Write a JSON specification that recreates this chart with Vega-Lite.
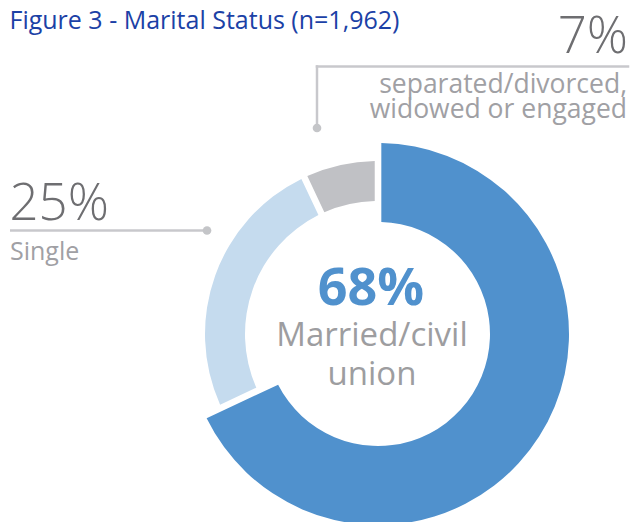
{
  "$schema": "https://vega.github.io/schema/vega-lite/v6.json",
  "width": 634,
  "height": 522,
  "autosize": {"type": "none"},
  "padding": 0,
  "background": "white",
  "config": {"view": {"stroke": null}},
  "data": {
    "values": [
      {"category": "Married/civil union", "label": "Married/civil\nunion", "pct": 0.68},
      {"category": "Single", "label": "Single", "pct": 0.25},
      {"category": "Other", "label": "separated/divorced,\nwidowed or engaged", "pct": 0.07}
    ]
  },
  "layer": [
    {
      "mark": {"type": "arc", "radius": 191, "radius2": 112, "padAngle": 0.03},
      "encoding": {
        "x": {"datum": 0, "type": "quantitative", "scale": {"domain": [-3.78, 2.56], "nice": false, "zero": false}, "axis": null},
        "y": {"datum": 0, "type": "quantitative", "scale": {"domain": [-1.88, 3.34], "nice": false, "zero": false}, "axis": null},
        "theta": {"field": "pct", "type": "quantitative", "stack": true},
        "order": {"field": "pct", "sort": "descending"},
        "fill": {"condition": {"test": "datum.category === 'Married/civil union'", "value": "#5091CD"}, "value": "transparent"}
      }
    },
    {
      "mark": {"type": "arc", "radius": 173, "radius2": 133, "padAngle": 0.03},
      "encoding": {
        "x": {"datum": 0, "type": "quantitative", "scale": {"domain": [-3.78, 2.56], "nice": false, "zero": false}, "axis": null},
        "y": {"datum": 0, "type": "quantitative", "scale": {"domain": [-1.88, 3.34], "nice": false, "zero": false}, "axis": null},
        "theta": {"field": "pct", "type": "quantitative", "stack": true},
        "order": {"field": "pct", "sort": "descending"},
        "fill": {"condition": [
          {"test": "datum.category === 'Single'", "value": "#C5DBEE"},
          {"test": "datum.category === 'Other'", "value": "#C0C1C5"}
        ], "value": "transparent"}
      }
    },
    {
      "data": {"values": [{"title": "Figure 3 - Marital Status (n=1,962)"}]},
      "mark": {"type": "text", "font": "Open Sans", "fontSize": 25, "color": "#1B41A6", "align": "left", "baseline": "alphabetic"},
      "encoding": {
        "x": {"datum": -3.685, "type": "quantitative", "scale": {"domain": [-3.78, 2.56], "nice": false, "zero": false}, "axis": null},
        "y": {"datum": 3.055, "type": "quantitative", "scale": {"domain": [-1.88, 3.34], "nice": false, "zero": false}, "axis": null},
        "text": {"field": "title", "type": "nominal"}
      }
    },
    {
      "transform": [{"filter": "datum.category === 'Single'"}],
      "mark": {"type": "rule", "color": "#C8C8CC", "strokeWidth": 2.5},
      "encoding": {
        "x": {"datum": -3.68, "type": "quantitative", "scale": {"domain": [-3.78, 2.56], "nice": false, "zero": false}, "axis": null},
        "x2": {"datum": -1.71},
        "y": {"datum": 1.035, "type": "quantitative", "scale": {"domain": [-1.88, 3.34], "nice": false, "zero": false}, "axis": null}
      }
    },
    {
      "transform": [{"filter": "datum.category === 'Single'"}],
      "mark": {"type": "point", "filled": true, "color": "#C4C5C8", "opacity": 1, "size": 75},
      "encoding": {
        "x": {"datum": -1.71, "type": "quantitative", "scale": {"domain": [-3.78, 2.56], "nice": false, "zero": false}, "axis": null},
        "y": {"datum": 1.035, "type": "quantitative", "scale": {"domain": [-1.88, 3.34], "nice": false, "zero": false}, "axis": null}
      }
    },
    {
      "transform": [{"filter": "datum.category === 'Other'"}],
      "mark": {"type": "rule", "color": "#C8C8CC", "strokeWidth": 2.5, "strokeCap": "square"},
      "encoding": {
        "x": {"datum": -0.61, "type": "quantitative", "scale": {"domain": [-3.78, 2.56], "nice": false, "zero": false}, "axis": null},
        "y": {"datum": 2.06, "type": "quantitative", "scale": {"domain": [-1.88, 3.34], "nice": false, "zero": false}, "axis": null},
        "y2": {"datum": 2.675}
      }
    },
    {
      "transform": [{"filter": "datum.category === 'Other'"}],
      "mark": {"type": "rule", "color": "#C8C8CC", "strokeWidth": 2.5, "strokeCap": "square"},
      "encoding": {
        "x": {"datum": -0.61, "type": "quantitative", "scale": {"domain": [-3.78, 2.56], "nice": false, "zero": false}, "axis": null},
        "x2": {"datum": 2.5},
        "y": {"datum": 2.675, "type": "quantitative", "scale": {"domain": [-1.88, 3.34], "nice": false, "zero": false}, "axis": null}
      }
    },
    {
      "transform": [{"filter": "datum.category === 'Other'"}],
      "mark": {"type": "point", "filled": true, "color": "#C4C5C8", "opacity": 1, "size": 75},
      "encoding": {
        "x": {"datum": -0.61, "type": "quantitative", "scale": {"domain": [-3.78, 2.56], "nice": false, "zero": false}, "axis": null},
        "y": {"datum": 2.06, "type": "quantitative", "scale": {"domain": [-1.88, 3.34], "nice": false, "zero": false}, "axis": null}
      }
    },
    {
      "transform": [{"filter": "datum.category === 'Single'"}],
      "mark": {"type": "text", "font": "Open Sans", "fontSize": 51, "fontWeight": 300, "color": "#6E6E71", "align": "left", "baseline": "alphabetic"},
      "encoding": {
        "x": {"datum": -3.685, "type": "quantitative", "scale": {"domain": [-3.78, 2.56], "nice": false, "zero": false}, "axis": null},
        "y": {"datum": 1.14, "type": "quantitative", "scale": {"domain": [-1.88, 3.34], "nice": false, "zero": false}, "axis": null},
        "text": {"field": "pct", "type": "quantitative", "format": ".0%"}
      }
    },
    {
      "transform": [{"filter": "datum.category === 'Single'"}],
      "mark": {"type": "text", "font": "Open Sans", "fontSize": 25, "color": "#A0A0A4", "align": "left", "baseline": "alphabetic"},
      "encoding": {
        "x": {"datum": -3.68, "type": "quantitative", "scale": {"domain": [-3.78, 2.56], "nice": false, "zero": false}, "axis": null},
        "y": {"datum": 0.74, "type": "quantitative", "scale": {"domain": [-1.88, 3.34], "nice": false, "zero": false}, "axis": null},
        "text": {"field": "label", "type": "nominal"}
      }
    },
    {
      "transform": [{"filter": "datum.category === 'Other'"}],
      "mark": {"type": "text", "font": "Open Sans", "fontSize": 51, "fontWeight": 300, "color": "#6E6E71", "align": "right", "baseline": "alphabetic"},
      "encoding": {
        "x": {"datum": 2.5, "type": "quantitative", "scale": {"domain": [-3.78, 2.56], "nice": false, "zero": false}, "axis": null},
        "y": {"datum": 2.81, "type": "quantitative", "scale": {"domain": [-1.88, 3.34], "nice": false, "zero": false}, "axis": null},
        "text": {"field": "pct", "type": "quantitative", "format": ".0%"}
      }
    },
    {
      "transform": [{"filter": "datum.category === 'Other'"}],
      "mark": {"type": "text", "font": "Open Sans", "fontSize": 26.5, "color": "#A0A0A4", "align": "right", "baseline": "alphabetic", "lineBreak": "\n", "lineHeight": 25},
      "encoding": {
        "x": {"datum": 2.49, "type": "quantitative", "scale": {"domain": [-3.78, 2.56], "nice": false, "zero": false}, "axis": null},
        "y": {"datum": 2.41, "type": "quantitative", "scale": {"domain": [-1.88, 3.34], "nice": false, "zero": false}, "axis": null},
        "text": {"field": "label", "type": "nominal"}
      }
    },
    {
      "transform": [{"filter": "datum.category === 'Married/civil union'"}],
      "mark": {"type": "text", "font": "Open Sans", "fontSize": 52, "fontWeight": "bold", "color": "#5091CD", "align": "center", "baseline": "alphabetic"},
      "encoding": {
        "x": {"datum": -0.07, "type": "quantitative", "scale": {"domain": [-3.78, 2.56], "nice": false, "zero": false}, "axis": null},
        "y": {"datum": 0.29, "type": "quantitative", "scale": {"domain": [-1.88, 3.34], "nice": false, "zero": false}, "axis": null},
        "text": {"field": "pct", "type": "quantitative", "format": ".0%"}
      }
    },
    {
      "transform": [{"filter": "datum.category === 'Married/civil union'"}],
      "mark": {"type": "text", "font": "Open Sans", "fontSize": 33, "color": "#9D9DA0", "align": "center", "baseline": "alphabetic", "lineBreak": "\n", "lineHeight": 39},
      "encoding": {
        "x": {"datum": -0.06, "type": "quantitative", "scale": {"domain": [-3.78, 2.56], "nice": false, "zero": false}, "axis": null},
        "y": {"datum": -0.12, "type": "quantitative", "scale": {"domain": [-1.88, 3.34], "nice": false, "zero": false}, "axis": null},
        "text": {"field": "label", "type": "nominal"}
      }
    }
  ]
}
